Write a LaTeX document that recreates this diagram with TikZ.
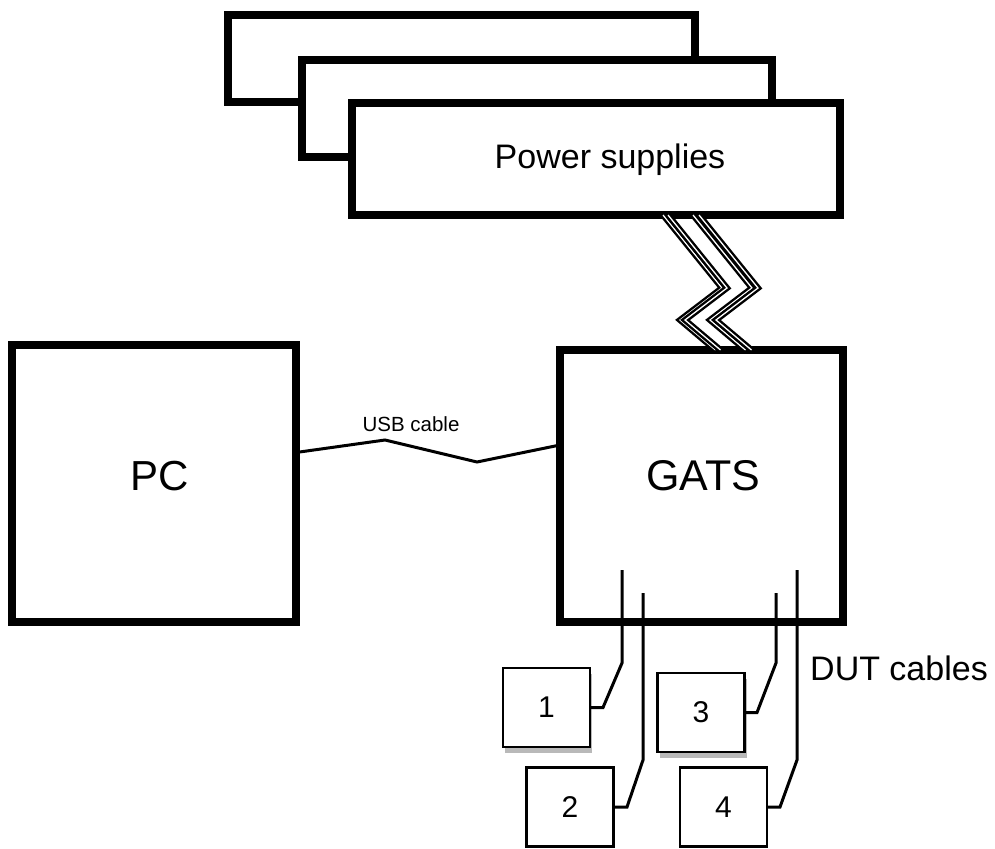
\documentclass[tikz,border=0pt]{standalone}
\usepackage{fontspec}
\setmainfont{Liberation Sans}
\usetikzlibrary{calc,shadows}

\begin{document}
\begin{tikzpicture}[x=1pt,y=-1pt,
    unit/.style={draw, line width=8pt, fill=white, inner sep=0pt, outer sep=0pt},
    dutbox/.style={draw, line width=2.5pt, fill=white, inner sep=0pt, outer sep=0pt,
        minimum width=87pt, minimum height=79pt, font=\fontsize{30}{36}\selectfont},
    boxshadow/.style={drop shadow={shadow xshift=2pt, shadow yshift=-6pt, fill=gray!55, opacity=1}},
    cable/.style={line width=3pt},
    pwr/.style={line width=2.4pt, double=white, double distance=1.3pt}]
    \useasboundingbox (0,0) rectangle (995,848);

    % power supplies
    \node[unit, minimum width=467pt, minimum height=87pt] (psuA) at (461.5,58.5) {};
    \node[unit, minimum width=470pt, minimum height=97pt] (psuB) at (537,108.5) {};
    \node[unit, minimum width=488pt, minimum height=112pt] (psu) at (596,159) {};
    \node[font=\fontsize{34}{40}\selectfont] (psuText) at (610,160) {Power supplies};

    \node[unit, minimum width=284pt, minimum height=277pt] (pc) at (154,483.5) {};
    \node[font=\fontsize{42}{48}\selectfont] (pcText) at (160,476) {PC};
    \node[unit, minimum width=283pt, minimum height=272pt] (gats) at (701.5,486) {};
    \node[font=\fontsize{43}{50}\selectfont] (gatsText) at (703,476) {GATS};

    % supply cables
    \foreach \d in {0,5,30,36}
        \draw[pwr] ($(psu.south)+(67+\d,0)$) -- (722+\d,288) -- (680+\d,320) -- ($(gats.north)+(14+\d,0)$);

    % usb
    \coordinate (usbA) at (385,440);
    \coordinate (usbB) at (477,462);
    \draw[cable] ($(pc.east)+(0,-31)$) -- (usbA) -- (usbB) -- ($(gats.west)+(0,-41)$);
    \node[font=\fontsize{20.5}{24}\selectfont] (usbText) at (411,424) {USB cable};

    % devices under test
    \node[dutbox, boxshadow] (d1) at (546.5,707.5) {1};
    \node[dutbox] (d2) at (570,807) {2};
    \node[dutbox, boxshadow] (d3) at (701,712.5) {3};
    \node[dutbox] (d4) at (723.5,807) {4};

    \coordinate (c1) at (622,570);
    \coordinate (c2) at (643,593);
    \coordinate (c3) at (776,593);
    \coordinate (c4) at (797,570);
    \draw[cable] (c1) -- (622,663) -- (603,707.5) -- (d1.east);
    \draw[cable] (c2) -- (643,760) -- (627,807) -- (d2.east);
    \draw[cable] (c3) -- (776,663) -- (757,712.5) -- (d3.east);
    \draw[cable] (c4) -- (797,760) -- (780,807) -- (d4.east);
    \node[font=\fontsize{34}{40}\selectfont] (dutText) at (899,668) {DUT cables};
\end{tikzpicture}
\end{document}
